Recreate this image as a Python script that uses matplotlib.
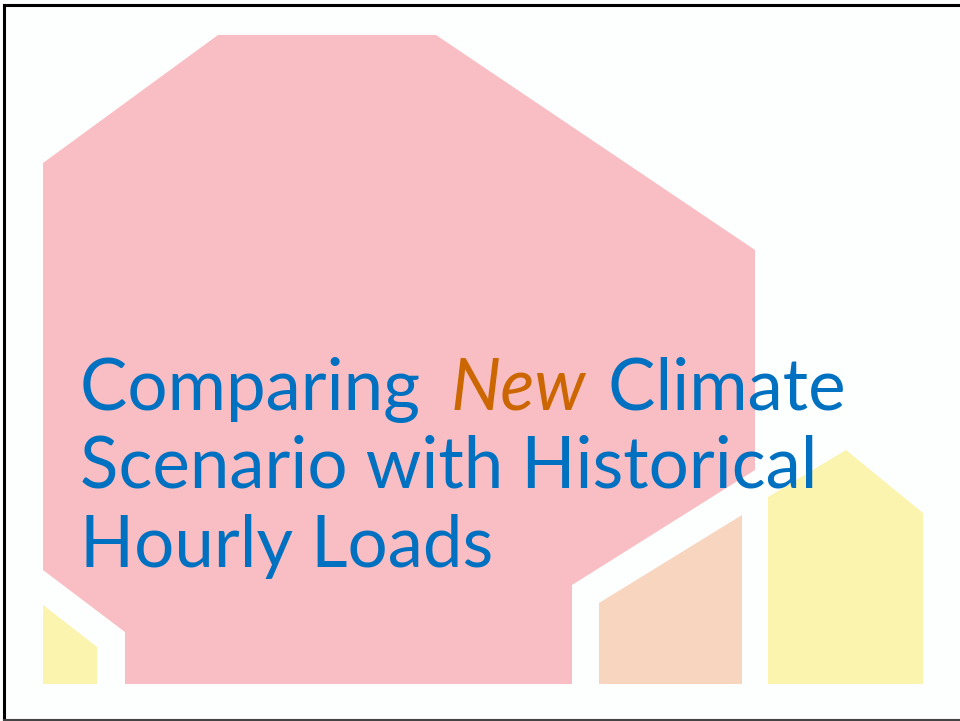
import matplotlib
matplotlib.use("Agg")
import matplotlib.pyplot as plt

# Slide outline shapes (pixel coordinates, y grows downward)
pink_x = [43, 218, 436, 755, 755, 572, 572, 125, 125, 43]
pink_y = [163, 35, 35, 250, 470, 585, 684, 684, 632, 570]

small_yellow_x = [43, 97, 97, 43]
small_yellow_y = [605, 647, 684, 684]

orange_x = [599, 742, 742, 599]
orange_y = [603, 515, 684, 684]

yellow_x = [768, 846, 923, 923, 768]
yellow_y = [497, 450, 513, 684, 684]

title_lines = ["Comparing ", "New", " Climate", "Scenario with Historical", "Hourly Loads"]

BLUE = "#0070C0"
ORANGE = "#CC6600"

fig = plt.figure(figsize=(9.60, 7.21), dpi=100)
fig.patch.set_facecolor("#FDFEFE")
ax = fig.add_axes([0, 0, 1, 1])
ax.set_xlim(0, 960)
ax.set_ylim(721, 0)
ax.axis("off")

ax.fill(pink_x, pink_y, color="#F8BEC3", lw=0)
ax.fill(small_yellow_x, small_yellow_y, color="#FBF4AE", lw=0)
ax.fill(orange_x, orange_y, color="#F8D5BE", lw=0)
ax.fill(yellow_x, yellow_y, color="#FBF4AE", lw=0)

# frame
ax.plot([4, 960], [5, 5], color="black", lw=2.2)
ax.plot([4, 4], [5, 720], color="black", lw=2.2)
ax.plot([4, 960], [719.5, 719.5], color="#444444", lw=1.5)

font = "Lato"
fs = 51
x0 = 80
t1 = ax.text(x0, 410, title_lines[0], fontsize=fs, color=BLUE, family=font, va="baseline")
fig.canvas.draw()
r = fig.canvas.get_renderer()
bb = t1.get_window_extent(r)
x1 = x0 + bb.width + 12
t2 = ax.text(x1, 410, title_lines[1], fontsize=fs, color=ORANGE, family=font,
             style="italic", va="baseline")
bb2 = t2.get_window_extent(r)
x2 = x1 + bb2.width
ax.text(x2 + 4, 410, title_lines[2], fontsize=fs, color=BLUE, family=font, va="baseline")
ax.text(x0, 488, title_lines[3], fontsize=fs, color=BLUE, family=font, va="baseline")
ax.text(x0, 567, title_lines[4], fontsize=fs, color=BLUE, family=font, va="baseline")

fig.savefig("out.png", dpi=100, facecolor=fig.get_facecolor())
